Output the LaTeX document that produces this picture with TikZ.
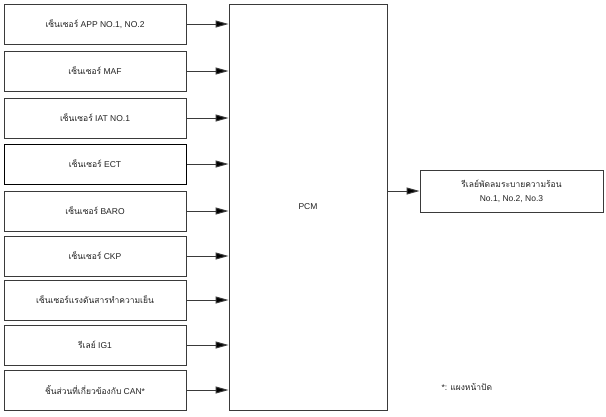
\documentclass[tikz,border=0pt]{standalone}
\usepackage{fontspec}
\setmainfont{Liberation Sans}
\newfontfamily\thai[Script=Thai]{Loma}
\usetikzlibrary{arrows.meta}
\definecolor{edge}{HTML}{3A3A3A}
\definecolor{ink}{HTML}{222222}
\tikzset{
  inbox/.style={draw=edge, line width=1pt, minimum width=182pt, minimum height=40pt,
    inner sep=0pt, text=ink, font=\fontsize{8.5}{10}\selectfont, align=center},
  link/.style={draw=edge, line width=1pt, -{Triangle[length=13pt,width=7pt,fill=black]}}
}
\begin{document}
\begin{tikzpicture}[x=1pt,y=-1pt]
\useasboundingbox (0,0) rectangle (606,416);
% input sensors and signals
\node[inbox] (b1) at (95,24)  {{\thai เซ็นเซอร์} APP NO.1, NO.2};
\node[inbox] (b2) at (95,71)  {{\thai เซ็นเซอร์} MAF};
\node[inbox] (b3) at (95,118) {{\thai เซ็นเซอร์} IAT NO.1};
\node[inbox, draw=black] (b4) at (95,164) {{\thai เซ็นเซอร์} ECT};
\node[inbox] (b5) at (95,211) {{\thai เซ็นเซอร์} BARO};
\node[inbox] (b6) at (95,256) {{\thai เซ็นเซอร์} CKP};
\node[inbox] (b7) at (95,300) {{\thai เซ็นเซอร์แรงดันสารทำความเย็น}};
\node[inbox] (b8) at (95,345) {{\thai รีเลย์} IG1};
\node[inbox] (b9) at (95,390) {{\thai ชิ้นส่วนที่เกี่ยวข้องกับ} CAN*};
% control module
\node[inbox, minimum width=158pt, minimum height=406pt] (pcm) at (308,207) {PCM};
% output
\node[inbox, minimum width=183pt, minimum height=42pt] (out) at (511.5,191)
  {{\thai รีเลย์พัดลมระบายความร้อน}\\[4pt] No.1, No.2, No.3};
\node[font=\fontsize{8.5}{10}\selectfont, text=ink, anchor=west] (note) at (438,387) {*: {\thai แผงหน้าปัด}};
% connectors
\foreach \b in {b1,b2,b3,b4,b5,b6,b7,b8,b9}
  \draw[link] (\b.east) -- (\b.east -| pcm.west);
\draw[link] (out.west -| pcm.east) -- (out.west);
\end{tikzpicture}
\end{document}
